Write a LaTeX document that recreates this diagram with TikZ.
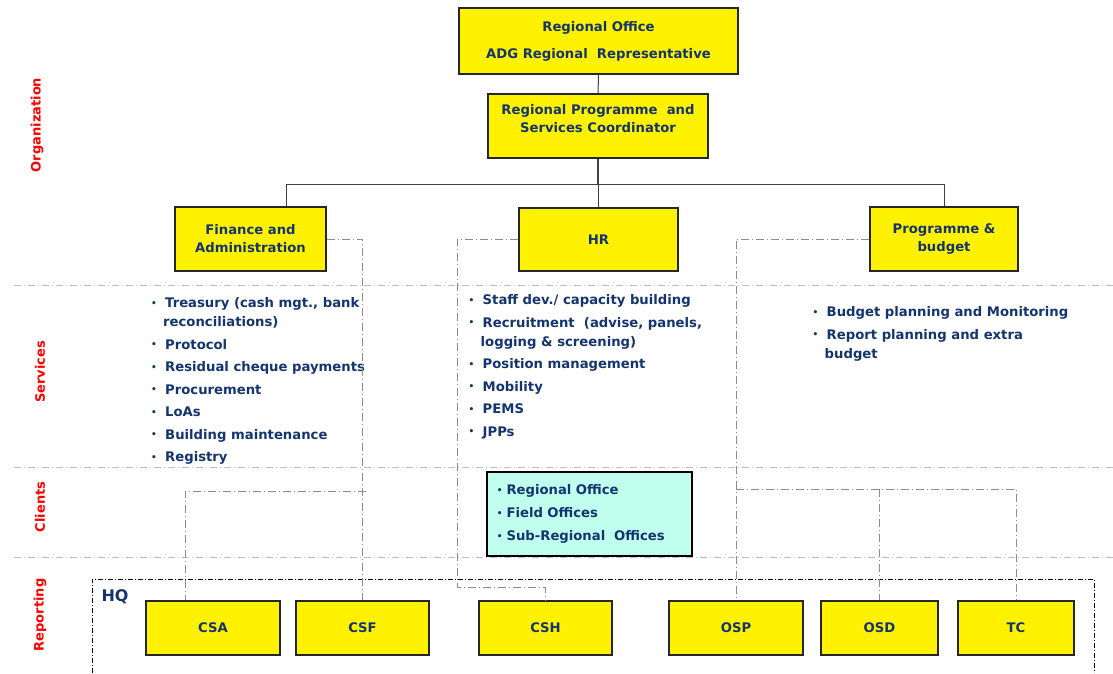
\documentclass[tikz,border=0pt]{standalone}
\usepackage{fontspec}
\setmainfont{DejaVu Sans}
\usetikzlibrary{positioning,calc}

\definecolor{navy}{RGB}{20,52,112}
\definecolor{mint}{RGB}{192,255,238}
\newcommand{\bul}{\makebox[14pt][l]{\raisebox{1.5pt}{\fontsize{9}{9}\selectfont\textbullet}}}
\newcommand{\wrapin}{\hspace*{12pt}}

\begin{document}
\begin{tikzpicture}[x=1pt,y=-1pt,
    unit/.style={draw=black!85, line width=1.2pt, fill=yellow, text=navy, align=center, inner sep=0pt,
      font=\bfseries\fontsize{13.2}{18}\selectfont},
    txt/.style={text=navy, align=center, inner sep=0pt, font=\bfseries\fontsize{13.2}{18}\selectfont},
    items/.style={text=navy, align=left, inner sep=0pt, anchor=north west, font=\bfseries\fontsize{13.2}{19}\selectfont},
    zone/.style={text=red, rotate=90, font=\bfseries\fontsize{13}{15}\selectfont},
    orgline/.style={draw=black!75, line width=1pt},
    link/.style={draw=black!45, line width=0.9pt, dash pattern=on 8pt off 3pt on 1pt off 3pt},
    sep/.style={draw=black!25, line width=0.9pt, dash pattern=on 7pt off 3pt on 1pt off 3pt}]
  \useasboundingbox (0,0) rectangle (1113,673);

  % zones
  \foreach \y in {285,467,557}
    \draw[sep] (14,\y) -- (1113,\y);
  \node[zone] (zorg) at (37,125) {Organization};
  \node[zone] (zserv) at (40,372) {Services};
  \node[zone] (zcli) at (40,507) {Clients};
  \node[zone] (zrep) at (40,615) {Reporting};

  % organization
  \node[unit, minimum width=279, minimum height=66, font=\bfseries\fontsize{13.2}{27}\selectfont] (ro) at (598.5,41)
    {Regional Office\\ADG Regional~ Representative};
  \node[unit, minimum width=220, minimum height=64] (coord) at (598,126) {};
  \node[txt] (coordtxt) at (598,119) {Regional Programme~ and\\Services Coordinator};
  \node[unit, minimum width=151, minimum height=64] (fa) at (250.5,239) {Finance and\\Administration};
  \node[unit, minimum width=159, minimum height=63] (hr) at (598.5,239.5) {HR};
  \node[unit, minimum width=148, minimum height=64] (pb) at (944,239) {Programme \&\\budget};

  \coordinate (busl) at (286,184);
  \draw[orgline] (ro) -- (coord);
  \draw[orgline, line width=2pt] (coord.south) -- (coord.south |- busl);
  \draw[orgline] (fa.north -| busl) -- (busl) -- (busl -| pb.north) -- (pb.north);
  \draw[orgline] (hr.north) -- (hr.north |- busl);

  % services
  \node[items] (falist) at (151,297.5) {\bul Treasury (cash mgt., bank\\\wrapin reconciliations)\\[3.5pt]
    \bul Protocol\\[3.5pt]\bul Residual cheque payments\\[3.5pt]\bul Procurement\\[3.5pt]
    \bul LoAs\\[3.5pt]\bul Building maintenance\\[3.5pt]\bul Registry};
  \node[items] (hrlist) at (468.5,294.5) {\bul Staff dev./ capacity building\\[3.5pt]
    \bul Recruitment~ (advise, panels,\\\wrapin logging \& screening)\\[3.5pt]\bul Position management\\[3.5pt]
    \bul Mobility\\[3.5pt]\bul PEMS\\[3.5pt]\bul JPPs};
  \node[items] (pblist) at (812.5,306.5) {\bul Budget planning and Monitoring\\[3.5pt]
    \bul Report planning and extra\\\wrapin budget};

  % clients
  \node[draw=black, line width=1.2pt, fill=mint, text=navy, align=left, text width=194, inner xsep=5.5,
    minimum height=84, font=\bfseries\fontsize{13.2}{19}\selectfont] (clients) at (589.5,514)
    {\makebox[10pt][r]{\raisebox{1.5pt}{\fontsize{9}{9}\selectfont\textbullet}}\hspace{4pt}Regional Office\\[4pt]
     \makebox[10pt][r]{\raisebox{1.5pt}{\fontsize{9}{9}\selectfont\textbullet}}\hspace{4pt}Field Offices\\[4pt]
     \makebox[10pt][r]{\raisebox{1.5pt}{\fontsize{9}{9}\selectfont\textbullet}}\hspace{4pt}Sub-Regional~ Offices};

  % reporting
  \draw[black, line width=0.9pt, dash pattern=on 5pt off 2pt on 1pt off 2pt] (92,673) |- (1094,579) -- (1094,673);
  \node[txt, font=\bfseries\fontsize{16}{18}\selectfont] (hq) at (115,597) {HQ};
  \node[unit, minimum width=134, minimum height=54] (csa) at (213,628) {CSA};
  \node[unit, minimum width=133, minimum height=54] (csf) at (362.5,628) {CSF};
  \node[unit, minimum width=133, minimum height=54] (csh) at (545.5,628) {CSH};
  \node[unit, minimum width=134, minimum height=54] (osp) at (736,628) {OSP};
  \node[unit, minimum width=117, minimum height=54] (osd) at (879.5,628) {OSD};
  \node[unit, minimum width=116, minimum height=54] (tc) at (1016,628) {TC};

  \coordinate (fajoin) at (366,491);
  \coordinate (hrturn) at (457,587);
  \coordinate (pbjoin) at (736,489);
  \draw[link] (fa.east) -| (csf.north);
  \draw[link] (fajoin) -| ([xshift=-28]csa.north);
  \draw[link] (hr.west) -| (hrturn) -| (csh.north);
  \draw[link] (pb.west) -| (osp.north);
  \draw[link] (pbjoin) -| (tc.north);
  \draw[link] (osd.north |- pbjoin) -- (osd.north);
\end{tikzpicture}
\end{document}
